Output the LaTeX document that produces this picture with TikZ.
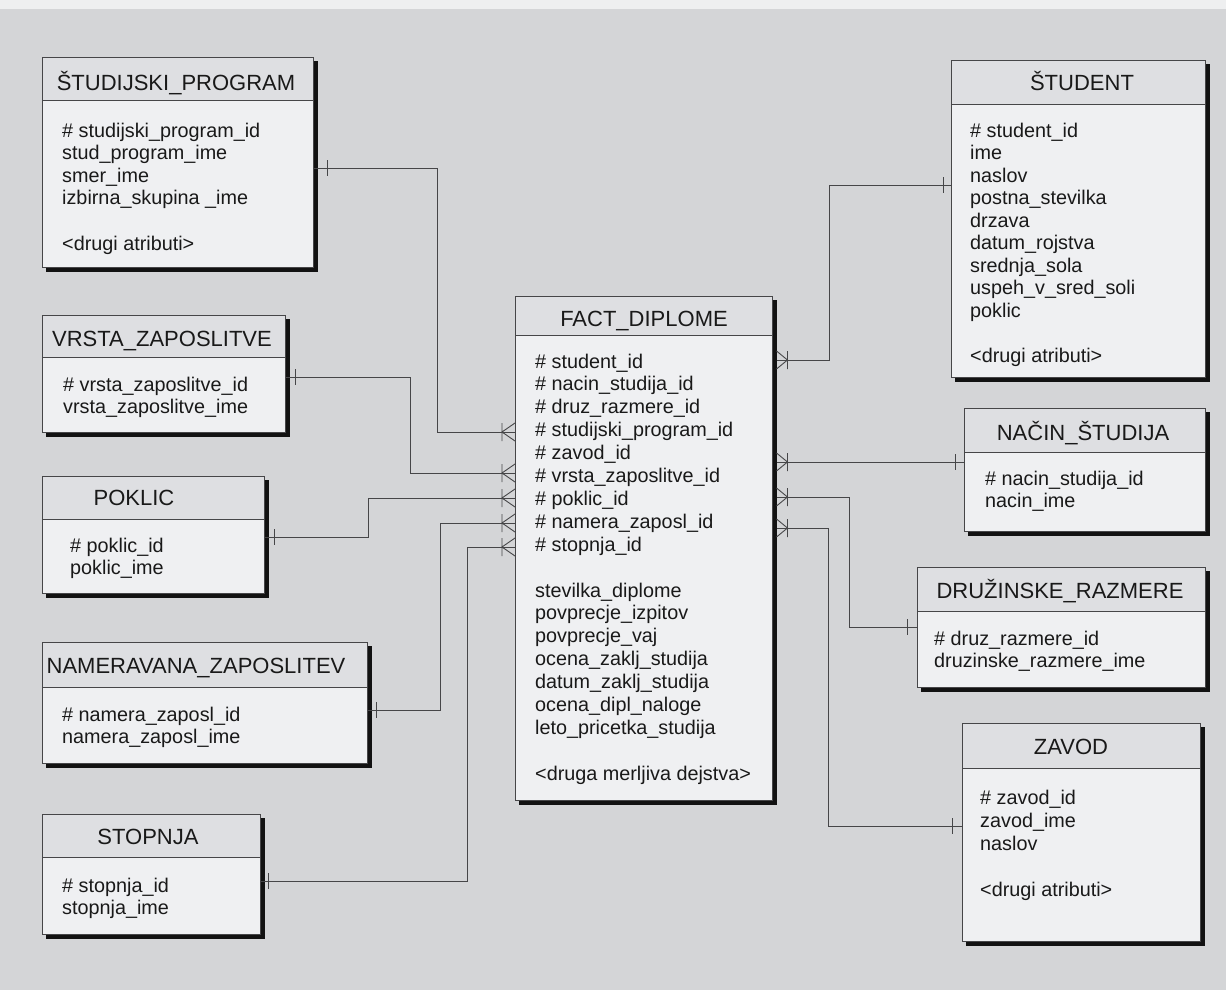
\documentclass[tikz,border=0pt]{standalone}
\usepackage{fontspec}
\setmainfont{Liberation Sans}
\definecolor{pagegrey}{RGB}{212,213,215}
\definecolor{pageedge}{RGB}{238,239,240}
\definecolor{bodyfill}{RGB}{239,240,242}
\definecolor{headfill}{RGB}{222,223,226}
\definecolor{linegrey}{RGB}{70,70,72}
\definecolor{shadowfill}{RGB}{18,18,18}
\tikzset{
  entity/.style={draw=linegrey, fill=bodyfill, line width=0.9pt, anchor=north west, inner sep=0pt, outer sep=0pt},
  headpart/.style={draw=linegrey, fill=headfill, line width=0.9pt},
  title/.style={anchor=base, inner sep=0pt, font=\fontsize{22}{26}\selectfont, text=black!90},
  attrs/.style={anchor=base west, inner sep=0pt, font=\fontsize{19.8}{#1}\selectfont, text=black!90},
  attrs/.default=22.6,
  conn/.style={draw=linegrey, line width=0.9pt},
  pics/onetick/.style={code={\draw[conn] (#1,-8) -- (#1,8);}},
  pics/manyin/.style={code={\draw[conn] (-13,-9) -- (-13,9) (0,-9) -- (-13,0) -- (0,9);}},
  pics/manyout/.style={code={\draw[conn] (11,-9) -- (11,9) (0,-9) -- (11,0) -- (0,9);}},
}
% entity box: name, left, top, right, bottom, header rule
\newcommand\entitybox[6]{%
  \fill[shadowfill] (#2+4,#3+4) rectangle (#4+4.5,#5+4.5);
  \node[entity, minimum width={#4-#2}, minimum height={#5-#3}] (#1) at (#2,#3) {};
  \draw[headpart] (#2,#3) rectangle (#4,#6);
}
\newcommand\attrlist[1]{\begin{tabular}[t]{@{}l@{}}#1\end{tabular}}
\begin{document}
\begin{tikzpicture}[x=1pt,y=-1pt]
\useasboundingbox (0,0) rectangle (1226,990);
\fill[pagegrey] (0,0) rectangle (1226,990);
\fill[pageedge] (0,0) rectangle (1226,9);

% dimension tables, left column
\entitybox{sp}{42}{57}{313}{267}{100}
\node[title] (sp-t) at (176,91) {ŠTUDIJSKI\_PROGRAM};
\node[attrs] (sp-a) at (62,137) {\attrlist{\# studijski\_program\_id\\ stud\_program\_ime\\ smer\_ime\\ izbirna\_skupina \_ime\\ \\ <drugi atributi>}};

\entitybox{vz}{42}{315}{285}{432}{357}
\node[title] (vz-t) at (162,346) {VRSTA\_ZAPOSLITVE};
\node[attrs] (vz-a) at (63,391) {\attrlist{\# vrsta\_zaposlitve\_id\\ vrsta\_zaposlitve\_ime}};

\entitybox{pk}{42}{476}{264}{593}{519}
\node[title] (pk-t) at (134,505) {POKLIC};
\node[attrs] (pk-a) at (70,552) {\attrlist{\# poklic\_id\\ poklic\_ime}};

\entitybox{nz}{42}{642}{367}{763}{687}
\node[title] (nz-t) at (196,673) {NAMERAVANA\_ZAPOSLITEV};
\node[attrs] (nz-a) at (62,721) {\attrlist{\# namera\_zaposl\_id\\ namera\_zaposl\_ime}};

\entitybox{st}{42}{814}{260}{934}{857}
\node[title] (st-t) at (148,844) {STOPNJA};
\node[attrs] (st-a) at (62,892) {\attrlist{\# stopnja\_id\\ stopnja\_ime}};

% fact table
\entitybox{fact}{515}{296}{772}{800}{335}
\node[title] (fact-t) at (644,326) {FACT\_DIPLOME};
\node[attrs=22.9] (fact-a) at (535,368) {\attrlist{\# student\_id\\ \# nacin\_studija\_id\\ \# druz\_razmere\_id\\ \# studijski\_program\_id\\ \# zavod\_id\\ \# vrsta\_zaposlitve\_id\\ \# poklic\_id\\ \# namera\_zaposl\_id\\ \# stopnja\_id\\ \\ stevilka\_diplome\\ povprecje\_izpitov\\ povprecje\_vaj\\ ocena\_zaklj\_studija\\ datum\_zaklj\_studija\\ ocena\_dipl\_naloge\\ leto\_pricetka\_studija\\ \\ <druga merljiva dejstva>}};

% dimension tables, right column
\entitybox{stu}{951}{60}{1205}{377}{104}
\node[title] (stu-t) at (1082,90) {ŠTUDENT};
\node[attrs=22.5] (stu-a) at (970,137) {\attrlist{\# student\_id\\ ime\\ naslov\\ postna\_stevilka\\ drzava\\ datum\_rojstva\\ srednja\_sola\\ uspeh\_v\_sred\_soli\\ poklic\\ \\ <drugi atributi>}};

\entitybox{nac}{964}{408}{1205}{531}{452}
\node[title] (nac-t) at (1083,440) {NAČIN\_ŠTUDIJA};
\node[attrs] (nac-a) at (985,485) {\attrlist{\# nacin\_studija\_id\\ nacin\_ime}};

\entitybox{dr}{917}{567}{1205}{687}{611}
\node[title] (dr-t) at (1060,598) {DRUŽINSKE\_RAZMERE};
\node[attrs] (dr-a) at (934,645) {\attrlist{\# druz\_razmere\_id\\ druzinske\_razmere\_ime}};

\entitybox{zav}{962}{723}{1200}{941}{768}
\node[title] (zav-t) at (1071,754) {ZAVOD};
\node[attrs=23] (zav-a) at (980,804) {\attrlist{\# zavod\_id\\ zavod\_ime\\ naslov\\ \\ <drugi atributi>}};

% relationships, left side (many end at the fact table)
\draw[conn] (sp.east |- 0,168) -- (437,168) |- (fact.west |- 0,432);
\pic at (sp.east |- 0,168) {onetick=14};
\pic at (fact.west |- 0,432) {manyin};

\draw[conn] (vz.east |- 0,377) -- (410,377) |- (fact.west |- 0,473);
\pic at (vz.east |- 0,377) {onetick=10};
\pic at (fact.west |- 0,473) {manyin};

\draw[conn] (pk.east |- 0,537) -- (368,537) |- (fact.west |- 0,498);
\pic at (pk.east |- 0,537) {onetick=10};
\pic at (fact.west |- 0,498) {manyin};

\draw[conn] (nz.east |- 0,710) -- (440,710) |- (fact.west |- 0,523);
\pic at (nz.east |- 0,710) {onetick=9};
\pic at (fact.west |- 0,523) {manyin};

\draw[conn] (st.east |- 0,881) -- (467,881) |- (fact.west |- 0,547);
\pic at (st.east |- 0,881) {onetick=8};
\pic at (fact.west |- 0,547) {manyin};

% relationships, right side
\coordinate (fr) at ([xshift=4.5pt]fact.east);
\draw[conn] (fr |- 0,360) -- (829,360) |- (stu.west |- 0,185);
\pic at (fr |- 0,360) {manyout};
\pic at (stu.west |- 0,185) {onetick=-8};

\draw[conn] (fr |- 0,462) -- (nac.west |- 0,462);
\pic at (fr |- 0,462) {manyout};
\pic at (nac.west |- 0,462) {onetick=-9};

\draw[conn] (fr |- 0,497) -- (849,497) |- (dr.west |- 0,627);
\pic at (fr |- 0,497) {manyout};
\pic at (dr.west |- 0,627) {onetick=-10};

\draw[conn] (fr |- 0,528) -- (828,528) |- (zav.west |- 0,826);
\pic at (fr |- 0,528) {manyout};
\pic at (zav.west |- 0,826) {onetick=-10};
\end{tikzpicture}
\end{document}
